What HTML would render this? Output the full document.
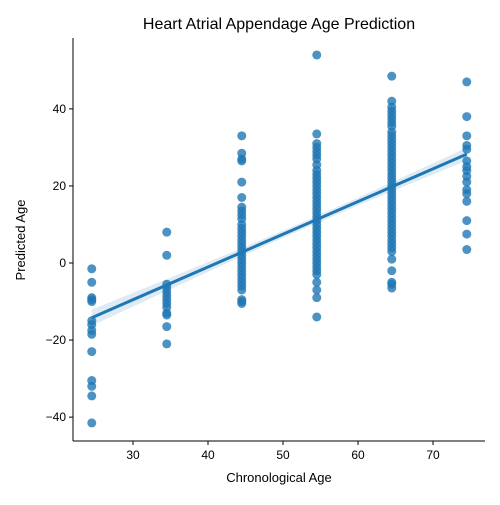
<!DOCTYPE html>
<html><head><meta charset="utf-8"><style>
body{margin:0;background:#fff;}
svg text{font-family:"Liberation Sans",sans-serif;fill:#000;}
</style></head><body>
<svg id="chart" width="500" height="500" viewBox="0 0 500 500">
<text x="279" y="29" font-size="16" text-anchor="middle">Heart Atrial Appendage Age Prediction</text>
<g id="band"></g>
<g id="pts"></g>
<g id="reg"></g>
<g id="axes"></g>
<text x="279" y="482" font-size="13" text-anchor="middle">Chronological Age</text>
<text x="25" y="240" font-size="13" text-anchor="middle" transform="rotate(-90 25 240)">Predicted Age</text>
</svg>
<script>
const groupAges = [24.5, 34.5, 44.5, 54.5, 64.5, 74.5];
const group0 = [-1.5,-5,-9,-9.5,-10,-15,-16,-17.5,-18.5,-23,-30.5,-32,-34.5,-41.5];
const group1 = [8,2,-5.5,-6.5,-7.5,-8.5,-9.5,-10.5,-11.5,-13,-13.5,-16.5,-21];
const group2 = [33,28.5,27,26.5,21,17,14.5,13.5,12.5,11.5,10,9,8,7,6,5,4,3,2,1,0,-1,-2,-3,-4,-5,-6,-7,-9.5,-10,-10.5];
const group3 = [54,33.5,31,30,29,28,27,25.5,24,23,22,21,20,19,18,17,16,15,14,13,12,11,10,9,8,7,6,5,4,3,2,1,0,-1,-2,-3,-5,-7,-9,-14];
const group4 = [48.5,42,40.5,39.5,38.5,37.5,36.5,35.5,34,33,32,31,30,29,28,27,26,25,24,23,22,21,20,19,18,17,16,15,14,13,12,11,10,9,8,7,6,5,4,3,1,-2,-5,-5.5,-6.5];
const group5 = [47,38,33,30.5,29.5,26.5,25,24,22.5,21,19,18,16,11,7.5,3.5];
const xTicks = [30,40,50,60,70];
const yTicks = [-40,-20,0,20,40];

const NS="http://www.w3.org/2000/svg";
const L=73,R=485,T=38,B=441;
const xMin=22,xMax=76.93,yMin=-46.2,yMax=58.4;
const sx=v=>L+(v-xMin)/(xMax-xMin)*(R-L);
const sy=v=>B-(v-yMin)/(yMax-yMin)*(B-T);
function mk(tag,attrs,parent){const e=document.createElementNS(NS,tag);for(const k in attrs)e.setAttribute(k,attrs[k]);parent.appendChild(e);return e;}
const groups=[group0,group1,group2,group3,group4,group5];
const pts=document.getElementById('pts');
let xs=[],ys=[];
groups.forEach((g,gi)=>g.forEach(v=>{
  xs.push(groupAges[gi]);ys.push(v);
  const c=mk('circle',{cx:sx(groupAges[gi]),cy:sy(v),r:4.5,fill:'#1f77b4','fill-opacity':0.8},pts);
  
  
}));
const n=xs.length,mx=xs.reduce((a,b)=>a+b)/n,my=ys.reduce((a,b)=>a+b)/n;
let sxx=0,sxy=0;for(let i=0;i<n;i++){sxx+=(xs[i]-mx)**2;sxy+=(xs[i]-mx)*(ys[i]-my);}
const b1=sxy/sxx,b0=my-b1*mx;
let sse=0;for(let i=0;i<n;i++)sse+=(ys[i]-b0-b1*xs[i])**2;
const s=Math.sqrt(sse/(n-2));
const x0=groupAges[0],x1=groupAges[groupAges.length-1];
let up=[],dn=[];
for(let k=0;k<=40;k++){const x=x0+(x1-x0)*k/40;const yh=b0+b1*x;const se=0.9*s*Math.sqrt(1/n+(x-mx)**2/sxx);up.push(sx(x)+','+sy(yh+se));dn.unshift(sx(x)+','+sy(yh-se));}
const band=mk('polygon',{points:up.concat(dn).join(' '),fill:'#1f77b4','fill-opacity':0.15},document.getElementById('band'));


const ln=mk('line',{x1:sx(x0),y1:sy(b0+b1*x0),x2:sx(x1),y2:sy(b0+b1*x1),stroke:'#1f77b4','stroke-width':3},document.getElementById('reg'));


const ax=document.getElementById('axes');
mk('line',{x1:L,y1:T,x2:L,y2:B,stroke:'#000','stroke-width':1},ax);
mk('line',{x1:L,y1:B,x2:R,y2:B,stroke:'#000','stroke-width':1},ax);
xTicks.forEach(t=>{const x=sx(t);mk('line',{x1:x,y1:B,x2:x,y2:B+4,stroke:'#000'},ax);
  const tx=mk('text',{x:x,y:B+18,'font-size':12,'text-anchor':'middle'},ax);tx.textContent=t;
  
  });
yTicks.forEach(t=>{const y=sy(t);mk('line',{x1:L-4,y1:y,x2:L,y2:y,stroke:'#000'},ax);
  const tx=mk('text',{x:L-7,y:y+4,'font-size':12,'text-anchor':'end'},ax);tx.textContent=t<0?'\u2212'+(-t):t;
  
  });
</script>
</body></html>
